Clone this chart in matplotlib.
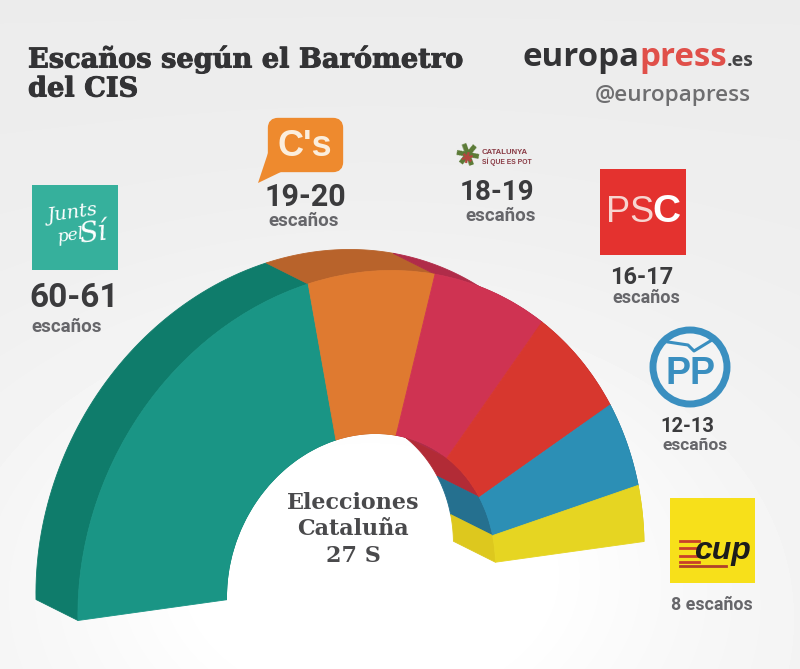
import numpy as np
import matplotlib
matplotlib.use("Agg")
import matplotlib.pyplot as plt
import matplotlib.patheffects as pe
from matplotlib.patches import Rectangle, FancyBboxPatch, Polygon, Circle, Wedge
from matplotlib.transforms import Affine2D

parties = ["JxSí", "C's", "CSQEP", "PSC", "PP", "CUP"]
seat_low = [60, 19, 18, 16, 12, 8]
seat_high = [61, 20, 19, 17, 13, 8]
seat_labels = ["60-61", "19-20", "18-19", "16-17", "12-13"]
front_colors = ["#1a9585", "#df7a30", "#cf3352", "#d7372e", "#2c8fb5", "#e6d522"]
side_colors = ["#0f7c6b", "#b8632b", "#b02c49", "#b22b36", "#25708f", "#ddc81e"]

W, H = 800, 669
fig = plt.figure(figsize=(W / 100, H / 100), dpi=100)
ax = fig.add_axes([0, 0, 1, 1])
ax.set_xlim(0, W)
ax.set_ylim(H, 0)
ax.axis("off")

# soft paper background, brighter round the centre of the hemicycle
yy, xx = np.mgrid[0:H, 0:W]
glow = np.exp(-(((xx - 370) / 330.0) ** 2 + ((yy - 560) / 230.0) ** 2))
shade = 0.925 + 0.075 * glow + 0.02 * (yy / H)
ax.imshow(np.clip(shade, 0, 1), cmap="gray", vmin=0, vmax=1, extent=(0, W, H, 0),
          aspect="auto", zorder=0)
ax.set_xlim(0, W)
ax.set_ylim(H, 0)

# hemicycle projection
mid = (np.array(seat_low) + np.array(seat_high)) / 2
edges = np.concatenate([[0], np.cumsum(mid)]) / mid.sum() * 180.0
C = np.array([361.0, 581.0])
U = np.array([283.0, -39.5])
V = np.array([-5.5, -308.0])
R_IN = 0.475
DEPTH = np.array([-42.0, -21.0])
front = Affine2D(np.array([[U[0], V[0], C[0]], [U[1], V[1], C[1]], [0, 0, 1]]))


def arc(a0, a1, r, off=(0, 0)):
    t = np.radians(180.0 - np.linspace(a0, a1, 60))
    return C + np.outer(r * np.cos(t), U) + np.outer(r * np.sin(t), V) + np.array(off)


# side walls first, front faces over them
for i in range(len(mid)):
    for r in (1.0, R_IN):
        a = arc(edges[i], edges[i + 1], r)
        b = arc(edges[i], edges[i + 1], r, DEPTH)
        ax.add_patch(Polygon(np.vstack([a, b[::-1]]), closed=True, fc=side_colors[i],
                             ec=side_colors[i], lw=0.6, zorder=2))
for i in range(len(mid)):
    ax.add_patch(Wedge((0, 0), 1.0, 180 - edges[i + 1], 180 - edges[i], width=1 - R_IN,
                       fc=front_colors[i], ec=front_colors[i], lw=0.6, zorder=3,
                       transform=front + ax.transData))

DARK = "#3b3b3d"
GREY = "#66666a"
num_font = ["Roboto", "DejaVu Sans"]
slab = ["DejaVu Serif"]
fat = [pe.withStroke(linewidth=0.7, foreground="#333335")]

# title
ax.text(28, 59, "Escaños según el Barómetro", family=slab, weight="bold", fontsize=19.6,
        color="#333335", va="center", ha="left", zorder=5, path_effects=fat)
ax.text(28, 89, "del CIS", family=slab, weight="bold", fontsize=19.6,
        color="#333335", va="center", ha="left", zorder=5, path_effects=fat)

# brand
t1 = ax.text(522, 57, "europa", family="Open Sans", weight="bold", fontsize=23.8,
             color="#333335", va="center", ha="left", zorder=5)
fig.canvas.draw()
x2 = t1.get_window_extent().x1
t2 = ax.text(x2, 57, "press", family="Open Sans", weight="bold", fontsize=23.8,
             color="#e0504a", va="center", ha="left", zorder=5)
x3 = t2.get_window_extent().x1
ax.text(x3, 61, ".es", family="Open Sans", weight="bold", fontsize=14,
        color="#444446", va="center", ha="left", zorder=5)
ax.text(751, 96, "@europapress", family="Open Sans", weight="semibold", fontsize=16.2,
        color="#6e6e70", va="center", ha="right", zorder=5)

# logos
ax.add_patch(Rectangle((32, 185), 86, 85, fc="#36b09c", ec="none", zorder=4))
ax.text(72, 214, "Junts", family="DejaVu Serif", style="italic", fontsize=14, color="white",
        ha="center", va="center", rotation=8, zorder=5)
ax.text(70, 236, "pel", family="DejaVu Serif", style="italic", fontsize=12.5, color="white",
        ha="center", va="center", rotation=8, zorder=5)
ax.text(93, 234, "Sí", family="DejaVu Serif", style="italic", fontsize=20, color="white",
        ha="center", va="center", rotation=8, zorder=5)

ax.add_patch(FancyBboxPatch((272, 122), 67, 46, boxstyle="round,pad=0,rounding_size=6",
                            mutation_scale=1, fc="#ee8a2e", ec="#ee8a2e", lw=6, zorder=4))
ax.add_patch(Polygon([(258, 183), (269, 150), (285, 170)], closed=True, fc="#ee8a2e",
                     ec="none", zorder=4))
ax.text(305, 146, "C's", family="Liberation Sans", weight="bold", fontsize=26, color="#fbeedd",
        ha="center", va="center", zorder=5)

ax.text(468, 157, "✱", family="DejaVu Sans", fontsize=22, color="#5a7a35",
        ha="center", va="center", rotation=20, zorder=5)
ax.text(468, 157, "✱", family="DejaVu Sans", fontsize=11, color="#b5453f",
        ha="center", va="center", rotation=45, zorder=6)
ax.text(482, 153, "CATALUNYA", family="Liberation Sans", weight="bold", fontsize=5.6,
        color="#8a3b45", ha="left", va="center", zorder=5)
ax.text(482, 162, "SÍ QUE ES POT", family="Liberation Sans", weight="bold", fontsize=4.9,
        color="#8a3b45", ha="left", va="center", zorder=5)

ax.add_patch(Rectangle((600, 169), 86, 86, fc="#e4322f", ec="none", zorder=4))
ax.text(630, 212, "PS", family="Liberation Sans", fontsize=26, color="#f7d5d0",
        ha="center", va="center", zorder=5)
ax.text(666, 212, "C", family="Liberation Sans", weight="bold", fontsize=28, color="white",
        ha="center", va="center", zorder=5)

ax.add_patch(Circle((690, 367), 37, fc="#f4f4f4", ec="#3a8fc0", lw=5, zorder=4))
ax.text(690, 374, "PP", family="Liberation Sans", weight="bold", fontsize=27, color="#3a8fc0",
        ha="center", va="center", zorder=5)
ax.plot([668, 688, 694, 712], [342, 345, 351, 340], color="#3a8fc0", lw=2.2, zorder=5)

ax.add_patch(Rectangle((670, 498), 85, 85, fc="#f7e01a", ec="none", zorder=4))
for y in [541, 548, 556, 562]:
    ax.plot([680, 699], [y, y], color="#c8402a", lw=2, zorder=5)
ax.plot([680, 726], [566, 566], color="#b0402a", lw=2, zorder=5)
ax.text(722, 551, "cup", family="Liberation Sans", weight="bold", style="italic", fontsize=23,
        color="#1c1c1c", ha="center", va="center", zorder=6)

# seat labels
num_pos = [(74, 298, 24), (305, 197, 22), (497, 193, 20), (642, 278, 17), (687, 427, 14.5)]
esc_pos = [(67, 327, 13.5), (304, 221, 13.5), (501, 216, 13.5), (646, 298, 13), (695, 446, 12.5)]
for lab, (x, y, s) in zip(seat_labels, num_pos):
    ax.text(x, y, lab, family=num_font, weight="bold", fontsize=s, color=DARK,
            ha="center", va="center", zorder=5)
for x, y, s in esc_pos:
    ax.text(x, y, "escaños", family="Roboto", weight="bold", fontsize=s, color=GREY,
            ha="center", va="center", zorder=5)
ax.text(712, 605, f"{seat_low[5]} escaños", family="Roboto", weight="bold", fontsize=12.8, color=GREY,
        ha="center", va="center", zorder=5)

# centre label
for y, s in zip([503, 529, 556], ["Elecciones", "Cataluña", "27 S"]):
    ax.text(353, y, s, family=slab, weight="bold", fontsize=16, color="#4a4a4c",
            ha="center", va="center", zorder=5)

fig.savefig("out.png", dpi=100)
